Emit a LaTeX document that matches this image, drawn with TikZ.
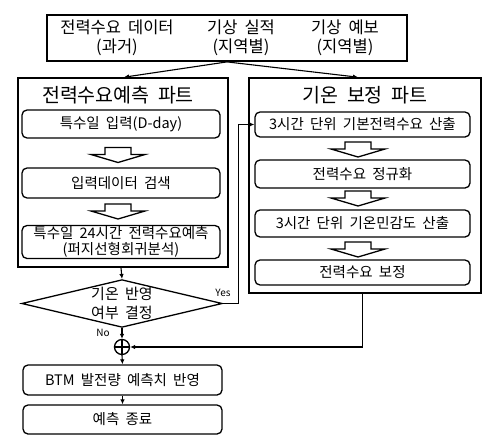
\documentclass[tikz,border=0pt]{standalone}
\usepackage{fontspec}
\setmainfont[WordSpace=1.9]{Noto Sans CJK KR}
\usetikzlibrary{arrows.meta,shapes.geometric}
\begin{document}
\begin{tikzpicture}[x=1pt,y=-1pt,
  partbox/.style={draw,line width=1.6pt,inner sep=0pt},
  ibox/.style={draw,line width=1.3pt,rounded corners=5pt,inner sep=0pt,minimum width=198pt,align=center,font=\fontsize{14.5}{17.5}\selectfont},
  rbox/.style={ibox,minimum width=215pt},
  ttl/.style={font=\fontsize{19.5}{21}\selectfont,inner sep=0pt},
  toptxt/.style={font=\fontsize{16.5}{18.5}\selectfont,align=center,inner sep=0pt},
  conn/.style={line width=1.1pt,-{Latex[length=5pt,width=4.5pt]}},
  lbl/.style={font=\fontsize{10}{11}\selectfont,inner sep=0pt},
  harrow/.pic={\draw[line width=1.3pt,fill=white] (-13,0) -- (13,0) -- (13,7) -- (27,7) -- (0,15) -- (-27,7) -- (-13,7) -- cycle;}
]
\useasboundingbox (0,0) rectangle (489,444);
% top box
\node[draw,line width=1.8pt,minimum width=360pt,minimum height=46pt,inner sep=0pt] (top) at (227,38) {};
\node[toptxt] (t1) at (117,38) {전력수요 데이터\\(과거)};
\node[toptxt] (t2) at (241,38) {기상 실적\\(지역별)};
\node[toptxt] (t3) at (345,38) {기상 예보\\(지역별)};
% parts
\node[partbox,minimum width=210pt,minimum height=189pt] (lp) at (123,172.5) {};
\node[partbox,minimum width=232pt,minimum height=215pt] (rp) at (365,185.5) {};
\node[ttl] (lt) at (118,95) {전력수요예측 파트};
\node[ttl] (rt) at (365,95) {기온 보정 파트};
\draw[conn] (top.south) -- ([xshift=1pt]lp.north);
\draw[conn] (top.south) -- ([xshift=-7pt]rp.north);
% left boxes
\node[ibox,minimum height=28pt] (l1) at (121,124) {특수일 입력(D-day)};
\node[ibox,minimum height=30pt] (l2) at (121,183) {입력데이터 검색};
\node[ibox,minimum height=33pt,font=\fontsize{14.5}{15.5}\selectfont] (l3) at (121,242) {특수일 24시간 전력수요예측\\(퍼지선형회귀분석)};
\pic at (118,147.5) {harrow};
\pic at (118,204) {harrow};
% right boxes
\node[rbox,minimum height=25pt] (r1) at (362.5,124.5) {3시간 단위 기본전력수요 산출};
\node[rbox,minimum height=28pt] (r2) at (362.5,174) {전력수요 정규화};
\node[rbox,minimum height=27pt] (r3) at (362.5,223.5) {3시간 단위 기온민감도 산출};
\node[rbox,minimum height=25pt] (r4) at (362.5,272.5) {전력수요 보정};
\pic at (358,142) {harrow};
\pic at (358,191) {harrow};
\pic at (358,242) {harrow};
% decision
\node[diamond,draw,line width=1.3pt,minimum width=199pt,minimum height=47pt,aspect=4.2,inner sep=0pt,align=center,font=\fontsize{15}{19.5}\selectfont] (dia) at (122,303.5) {기온 반영\\여부 결정};
\draw[conn] (l3.south |- lp.south) -- (dia.north);
\draw[conn] (dia.east) -- ++(16,0) |- (r1.west);
\node[lbl] (yes) at (223,293) {Yes};
\node[circle,draw,line width=1.3pt,minimum size=15pt,inner sep=0pt] (cp) at (122,347) {};
\draw[line width=1.1pt] (cp.north) -- (cp.south) (cp.west) -- (cp.east);
\draw[conn] (dia.south) -- (cp.north);
\node[lbl] (no) at (103,333) {No};
\draw[conn] (r4.south |- rp.south) |- (cp.east);
% bottom
\node[ibox,minimum width=199pt,minimum height=30pt] (btm) at (122.5,380) {BTM 발전량 예측치 반영};
\node[ibox,minimum width=199pt,minimum height=29pt] (fin) at (122.5,419.5) {예측 종료};
\draw[conn] (cp.south) -- (btm.north);
\draw[conn] (btm.south) -- (fin.north);
\end{tikzpicture}
\end{document}
